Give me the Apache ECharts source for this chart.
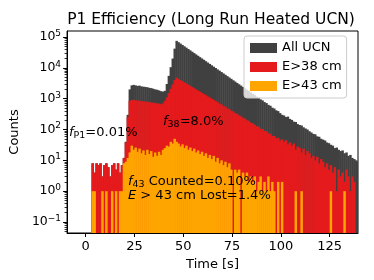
<!DOCTYPE html>
<html><head><meta charset="utf-8">
<script src="https://cdn.jsdelivr.net/npm/echarts@6/dist/echarts.min.js"></script>
<style>html,body{margin:0;padding:0;background:#fff}#c{width:374px;height:280px}</style>
</head><body><div id="c"></div>
<script>
// bin left edges [s], bin width 1 s
const binStarts = [3,4,5,6,7,8,9,10,11,12,13,14,15,16,17,18,19,20,21,22,23,24,25,26,27,28,29,30,31,32,33,34,35,36,37,38,39,40,41,42,43,44,45,46,47,48,49,50,51,52,53,54,55,56,57,58,59,60,61,62,63,64,65,66,67,68,69,70,71,72,73,74,75,76,77,78,79,80,81,82,83,84,85,86,87,88,89,90,91,92,93,94,95,96,97,98,99,100,101,102,103,104,105,106,107,108,109,110,111,112,113,114,115,116,117,118,119,120,121,122,123,124,125,126,127,128,129,130,131,132,133,134,135,136,137,138,139];
const binWidth = 1;

const allUCN = [
  8,4,8,7,8,3,7,8,6,3,
  7,8,5,8,4,7,12,
  40,300,2000,2700,2800,2700,2600,2650,2500,2450,
  2400,2350,2250,2200,2100,2000,1950,1850,1750,1700,
  1800,3000,5500,10500,20000,42000,
  75000,67800,61200,55300,50000,45200,40800,36900,33300,30100,
  27200,24600,22200,20100,18200,16400,14800,13400,12100,10900,
  9900,8900,8100,7300,6600,5960,5380,4860,4400,3970,
  3590,3240,2930,2650,2390,2160,1950,1770,1600,1440,
  1300,1170,1075,950,880,775,720,630,590,510,
  480,420,395,340,
  300,285,255,262,220,205,180,175,150,140,135,118,108,100,88,80,72,70,60,58,
  50,47,44,38,36,32,30,25,26,22,20,21,17,18,14,15,12,11,10,9
];
const e38 = [
  8,4,8,7,8,3,7,8,6,3,
  7,8,5,8,4,7,12,
  38,250,850,900,920,880,870,850,830,820,
  800,790,770,750,740,720,700,690,660,700,
  850,1100,1500,2100,2900,4000,
  4800,4400,4030,3690,3380,3100,2840,2600,2380,2180,
  2000,1830,1680,1540,1410,1290,1180,1080,990,910,
  830,770,690,650,575,545,480,460,400,385,
  340,322,285,270,238,228,200,192,166,160,
  144,128,124,106,104,90,87,75,73,62,
  62,52,54,44,
  48,40,45,33,38,30,35,22,28,25,18,24,15,20,17,12,14,10,13,8,
  11,9,6,8,5,7,4,6,1,5,3,4,2,5,3,1,3,2,0,0
];
const e43 = [
  1,1,0,0,0,1,0,1,0,0,
  1,0,1,0,1,1,8,
  9,12,18,30,22,26,19,24,17,21,
  15,22,16,20,13,18,14,19,15,22,
  25,30,28,40,35,50,
  40,35,28,33,25,30,22,26,20,24,
  18,21,16,19,14,17,12,15,11,14,
  9,12,8,10,7,9,6,8,5,0,
  5,4,5,0,4,3,4,2,3,2,
  3,1,2,3,1,2,1,3,1,2,
  1,0,2,0,
  2,0,0,0,0,0,0,1,0,0,1,0,0,0,0,0,0,0,0,0,
  0,0,0,0,0,1,0,0,0,0,0,0,1,0,0,0,0,0,0,0
];
const seriesNames = ['All UCN', 'E>38 cm', 'E>43 cm'];
const seriesColors = ['#404040', '#e41a1c', '#ffa500'];
const xTicks = [0, 25, 50, 75, 100, 125];
const yTicks = [0.1, 1, 10, 100, 1000, 10000, 100000];
const yMinor = [];
[0.01, 0.1, 1, 10, 100, 1000, 10000].forEach(d => { for (let k = 2; k <= 9; k++) yMinor.push(+(k * d).toPrecision(3)); });

const X_MIN = -9.5, X_MAX = 139.5, Y_MIN = 0.044, Y_MAX = 156700;
const FONT = 'DejaVu Sans';
const FS = 13;

function makeRender(color) {
  return function (params, api) {
    const x0 = api.value(0), v = api.value(1);
    if (!(v > 0)) return null;
    const p0 = api.coord([x0, v]);
    const p1 = api.coord([x0 + binWidth, v]);
    const cs = params.coordSys;
    const rect = echarts.graphic.clipRectByRect(
      { x: p0[0], y: p0[1], width: p1[0] - p0[0] + 0.5, height: cs.y + cs.height - p0[1] },
      { x: cs.x, y: cs.y, width: cs.width, height: cs.height });
    if (!rect) return null;
    return { type: 'rect', shape: rect, style: { fill: color } };
  };
}

const dataSets = [allUCN, e38, e43];
const series = dataSets.map((arr, i) => ({
  name: seriesNames[i],
  type: 'custom',
  renderItem: makeRender(seriesColors[i]),
  itemStyle: { color: seriesColors[i] },
  encode: { x: 0, y: 1 },
  data: binStarts.map((t, j) => [t, arr[j]]),
  z: 2 + i
}));

function supLabel(v) {
  const e = Math.round(Math.log10(v));
  return '10{sup|' + (e < 0 ? '\u2212' + (-e) : e) + '}';
}

const richText = (txt) => ({
  text: txt, textVerticalAlign: 'middle', fontFamily: FONT, fontSize: FS, lineHeight: 16, fill: '#000',
  rich: {
    i: { fontStyle: 'italic', fontFamily: FONT, fontSize: FS, lineHeight: 16 },
    sub: { fontFamily: FONT, fontSize: 9.5, lineHeight: 10, verticalAlign: 'bottom' }
  }
});

const chart = echarts.init(document.getElementById('c'), null, { renderer: 'canvas' });
chart.setOption({
  animation: false,
  backgroundColor: '#fff',
  textStyle: { fontFamily: FONT },
  title: {
    text: 'P1 Efficiency (Long Run Heated UCN)',
    left: 211, top: 12, textAlign: 'center', padding: 0,
    textStyle: { fontFamily: FONT, fontSize: 15.5, fontWeight: 'normal', color: '#000' }
  },
  grid: { left: 65, right: 16, top: 31, bottom: 47, containLabel: false, show: true, borderColor: '#000', borderWidth: 1, backgroundColor: 'transparent' },
  legend: {
    data: seriesNames, orient: 'vertical', left: 244, top: 36,
    icon: 'rect', itemWidth: 27, itemHeight: 10, itemGap: 5, itemTextGap: 10,
    padding: [5, 5, 5, 6], backgroundColor: 'rgba(255,255,255,0.8)', borderColor: '#cccccc', borderWidth: 1, borderRadius: 3,
    selectedMode: false,
    textStyle: { fontFamily: FONT, fontSize: FS, color: '#000', lineHeight: 14 }
  },
  xAxis: {
    type: 'value', min: X_MIN, max: X_MAX,
    name: 'Time [s]', nameLocation: 'middle', nameGap: 20,
    nameTextStyle: { fontFamily: FONT, fontSize: FS, color: '#000' },
    axisLine: { show: true, onZero: false, lineStyle: { color: '#000', width: 1 } },
    axisTick: { show: true, length: 4, customValues: xTicks, lineStyle: { color: '#000', width: 1 } },
    axisLabel: { customValues: xTicks, margin: 7, fontFamily: FONT, fontSize: FS, color: '#000' },
    splitLine: { show: false }
  },
  yAxis: [{
    type: 'log', logBase: 10, min: Y_MIN, max: Y_MAX, position: 'left',
    name: 'Counts', nameLocation: 'middle', nameGap: 42,
    nameTextStyle: { fontFamily: FONT, fontSize: FS, color: '#000' },
    axisLine: { show: true, onZero: false, lineStyle: { color: '#000', width: 1 } },
    axisTick: { show: true, length: 4, customValues: yTicks, lineStyle: { color: '#000', width: 1 } },
    axisLabel: {
      customValues: yTicks, margin: 6, color: '#000', fontFamily: FONT, fontSize: 12.5, lineHeight: 16,
      formatter: supLabel,
      rich: { sup: { fontFamily: FONT, fontSize: 9, lineHeight: 8, verticalAlign: 'top', color: '#000' } }
    },
    splitLine: { show: false }
  }, {
    type: 'log', logBase: 10, min: Y_MIN, max: Y_MAX, position: 'left',
    axisLine: { show: false, onZero: false },
    axisTick: { show: true, length: 2.5, customValues: yMinor, lineStyle: { color: '#000', width: 0.8 } },
    axisLabel: { show: false },
    splitLine: { show: false }
  }],
  graphic: [
    { type: 'text', x: 69, y: 133, style: richText('{i|f}{sub|P1}=0.01%'), z: 100 },
    { type: 'text', x: 163, y: 122, style: richText('{i|f}{sub|38}=8.0%'), z: 100 },
    { type: 'text', x: 128, y: 182, style: richText('{i|f}{sub|43} Counted=0.10%'), z: 100 },
    { type: 'text', x: 128, y: 196, style: richText('{i|E} > 43 cm Lost=1.4%'), z: 100 }
  ],
  series: series
});
</script></body></html>
